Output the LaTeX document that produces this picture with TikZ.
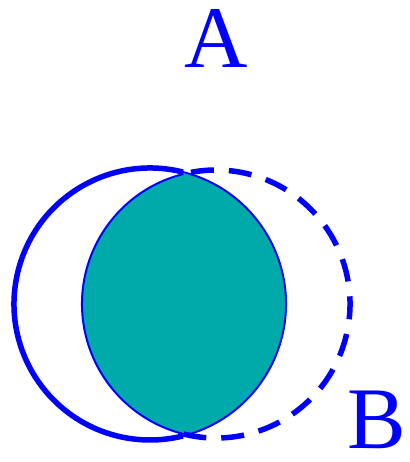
\documentclass[tikz,border=0pt]{standalone}
\usepackage{fontspec}
\setmainfont{Liberation Serif}
\usetikzlibrary{positioning}
\definecolor{setblue}{RGB}{0,0,255}
\definecolor{lensteal}{RGB}{0,170,170}

\begin{document}
\begin{tikzpicture}[
    x=0.02cm, y=0.02cm,
    setlabel/.style={text=setblue, font=\fontsize{50}{50}\selectfont, inner sep=0pt,
      text height=33pt, text depth=0pt},
    solidset/.style={draw=setblue, line width=0.11cm},
    dashedset/.style={draw=setblue, line width=0.11cm, dash pattern=on 0.46cm off 0.3cm},
    lensedge/.style={draw=setblue, line width=0.04cm}
  ]
    \useasboundingbox (0,0) rectangle (409,462);
    \coordinate (cA) at (150,158);
    \coordinate (cB) at (216,158);
    % intersection
    \begin{scope}
      \clip (cA) circle (136);
      \fill[lensteal] (cB) circle (134);
    \end{scope}
    \draw[lensedge] (cA) ++(76:136) arc (76:-76:136);
    \draw[lensedge] (cB) ++(104:134) arc (104:256:134);
    % outer arcs
    \draw[solidset] (cA) ++(76:136) arc (76:284:136);
    \draw[dashedset] (cB) ++(-104:134) arc (-104:104:134);
    \node[setlabel] (labelA) at (216,423) {A};
    \node[setlabel] (labelB) at (377,42) {B};
  \end{tikzpicture}
\end{document}
